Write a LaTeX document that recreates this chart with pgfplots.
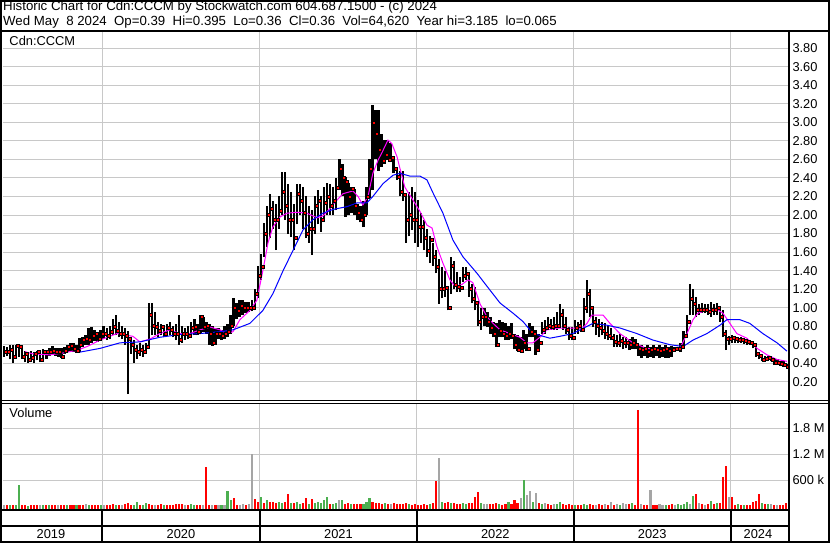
\documentclass[border=0pt]{standalone}
\usepackage{pgfplots}
\pgfplotsset{compat=1.18}
\usepackage{pgfplotstable}
\usepackage{fontspec}
\setmainfont{Liberation Sans}
\definecolor{gridc}{RGB}{200,200,200}
\definecolor{volred}{RGB}{255,0,0}
\definecolor{volgreen}{RGB}{76,175,80}
\definecolor{volgray}{RGB}{165,165,165}
\definecolor{mapink}{RGB}{255,0,255}
\definecolor{mablue}{RGB}{0,0,255}

% weekly bars: x = week index (+0.5), h = high, l = low, c = close
\pgfplotstableread{
x h l c
0.5 0.59 0.47 0.52
1.5 0.58 0.48 0.52
2.5 0.60 0.44 0.55
3.5 0.60 0.40 0.47
4.5 0.60 0.46 0.59
5.5 0.60 0.47 0.58
6.5 0.58 0.45 0.47
7.5 0.53 0.41 0.50
8.5 0.52 0.40 0.44
9.5 0.53 0.41 0.46
10.5 0.52 0.40 0.50
11.5 0.53 0.43 0.52
12.5 0.53 0.41 0.44
13.5 0.55 0.45 0.52
14.5 0.53 0.45 0.52
15.5 0.56 0.48 0.52
16.5 0.59 0.50 0.53
17.5 0.56 0.48 0.52
18.5 0.56 0.47 0.52
19.5 0.56 0.46 0.47
20.5 0.58 0.50 0.53
21.5 0.60 0.52 0.58
22.5 0.62 0.53 0.59
23.5 0.62 0.52 0.56
24.5 0.60 0.51 0.53
25.5 0.67 0.52 0.60
26.5 0.68 0.57 0.65
27.5 0.70 0.60 0.66
28.5 0.78 0.60 0.65
29.5 0.79 0.62 0.70
30.5 0.76 0.64 0.72
31.5 0.74 0.63 0.66
32.5 0.76 0.64 0.72
33.5 0.80 0.66 0.72
34.5 0.78 0.65 0.70
35.5 0.80 0.66 0.74
36.5 0.88 0.70 0.79
37.5 0.92 0.70 0.75
38.5 0.85 0.68 0.72
39.5 0.80 0.66 0.72
40.5 0.78 0.60 0.70
41.5 0.75 0.065 0.66
42.5 0.68 0.50 0.60
43.5 0.65 0.40 0.55
44.5 0.60 0.45 0.52
45.5 0.62 0.48 0.55
46.5 0.60 0.47 0.52
47.5 0.62 0.50 0.58
48.5 1.05 0.55 0.92
49.5 1.05 0.70 0.80
50.5 0.95 0.70 0.79
51.5 0.85 0.68 0.75
52.5 0.82 0.70 0.79
53.5 0.80 0.68 0.72
54.5 0.82 0.70 0.78
55.5 0.85 0.70 0.76
56.5 0.80 0.68 0.72
57.5 0.82 0.65 0.72
58.5 0.92 0.60 0.65
59.5 0.80 0.62 0.72
60.5 0.78 0.65 0.72
61.5 0.80 0.66 0.70
62.5 0.85 0.68 0.78
63.5 0.88 0.70 0.79
64.5 0.82 0.70 0.74
65.5 0.92 0.72 0.90
66.5 0.90 0.74 0.79
67.5 0.85 0.72 0.80
68.5 0.82 0.60 0.72
69.5 0.80 0.59 0.62
70.5 0.78 0.60 0.72
71.5 0.78 0.66 0.72
72.5 0.76 0.65 0.70
73.5 0.80 0.66 0.72
74.5 0.82 0.68 0.74
75.5 0.92 0.72 0.80
76.5 1.10 0.80 1.00
77.5 1.05 0.88 0.97
78.5 1.08 0.90 1.02
79.5 1.08 0.92 1.00
80.5 1.06 0.94 1.00
81.5 1.06 0.95 1.00
82.5 1.08 0.96 1.00
83.5 1.20 0.97 1.15
84.5 1.45 1.10 1.35
85.5 1.58 1.30 1.44
86.5 1.91 1.55 1.80
87.5 2.10 1.65 2.00
88.5 2.23 1.75 2.07
89.5 2.15 1.85 1.95
90.5 2.12 1.62 1.95
91.5 2.20 1.85 2.05
92.5 2.46 2.00 2.25
93.5 2.46 1.95 2.10
94.5 2.33 1.80 1.95
95.5 2.25 1.76 1.95
96.5 2.12 1.62 1.75
97.5 2.33 1.90 2.23
98.5 2.33 2.00 2.15
99.5 2.30 1.85 2.03
100.5 2.20 1.75 1.80
101.5 2.10 1.70 1.85
102.5 2.05 1.57 1.85
103.5 2.20 1.80 2.10
104.5 2.27 1.90 2.15
105.5 2.20 1.82 1.95
106.5 2.30 1.95 2.13
107.5 2.35 2.00 2.20
108.5 2.33 2.00 2.10
109.5 2.30 2.00 2.15
110.5 2.40 2.05 2.30
111.5 2.60 2.27 2.50
112.5 2.55 2.20 2.40
113.5 2.41 1.98 2.36
114.5 2.35 2.00 2.20
115.5 2.30 2.02 2.28
116.5 2.28 2.00 2.10
117.5 2.12 1.95 2.03
118.5 2.10 1.92 1.95
119.5 2.15 1.87 2.00
120.5 2.30 2.00 2.20
121.5 2.60 2.18 2.50
122.5 3.19 2.27 3.00
123.5 3.13 2.60 2.88
124.5 3.13 2.48 2.70
125.5 2.88 2.52 2.59
126.5 2.81 2.55 2.65
127.5 2.81 2.59 2.60
128.5 2.78 2.59 2.62
129.5 2.59 2.45 2.50
130.5 2.50 2.38 2.41
131.5 2.48 2.20 2.25
132.5 2.48 2.15 2.22
133.5 2.20 1.70 1.95
134.5 2.25 1.77 2.00
135.5 2.30 1.84 1.95
136.5 2.25 1.70 1.95
137.5 2.16 1.66 1.87
138.5 2.02 1.70 1.87
139.5 1.95 1.62 1.75
140.5 1.85 1.55 1.62
141.5 1.77 1.48 1.73
142.5 1.70 1.45 1.55
143.5 1.62 1.37 1.44
144.5 1.52 1.04 1.20
145.5 1.44 1.10 1.20
146.5 1.40 1.12 1.22
147.5 1.20 0.97 1.00
148.5 1.55 1.15 1.45
149.5 1.50 1.20 1.25
150.5 1.38 1.17 1.23
151.5 1.33 1.17 1.22
152.5 1.44 1.28 1.35
153.5 1.44 1.30 1.37
154.5 1.37 1.12 1.20
155.5 1.25 1.05 1.10
156.5 1.22 0.97 1.05
157.5 1.04 0.80 0.85
158.5 1.00 0.76 0.90
159.5 1.00 0.80 0.90
160.5 0.95 0.79 0.85
161.5 0.90 0.72 0.78
162.5 0.85 0.68 0.72
163.5 0.83 0.58 0.60
164.5 0.87 0.68 0.75
165.5 0.85 0.68 0.72
166.5 0.83 0.65 0.70
167.5 0.80 0.65 0.72
168.5 0.83 0.66 0.70
169.5 0.72 0.55 0.60
170.5 0.70 0.53 0.55
171.5 0.68 0.53 0.53
172.5 0.76 0.55 0.62
173.5 0.72 0.53 0.56
174.5 0.83 0.68 0.74
175.5 0.80 0.68 0.72
176.5 0.76 0.49 0.55
177.5 0.72 0.55 0.62
178.5 0.85 0.72 0.76
179.5 0.87 0.72 0.78
180.5 0.90 0.76 0.80
181.5 0.88 0.76 0.79
182.5 0.90 0.76 0.80
183.5 0.95 0.76 0.80
184.5 1.04 0.78 0.92
185.5 0.98 0.76 0.80
186.5 0.90 0.72 0.76
187.5 0.79 0.65 0.70
188.5 0.79 0.65 0.68
189.5 0.87 0.72 0.78
190.5 0.85 0.72 0.80
191.5 0.87 0.74 0.76
192.5 1.10 0.78 1.00
193.5 1.30 0.94 1.15
194.5 1.20 0.90 1.00
195.5 1.00 0.79 0.85
196.5 0.90 0.70 0.80
197.5 0.88 0.68 0.78
198.5 0.85 0.70 0.75
199.5 0.83 0.66 0.72
200.5 0.80 0.65 0.70
201.5 0.78 0.65 0.68
202.5 0.72 0.58 0.63
203.5 0.70 0.58 0.62
204.5 0.72 0.58 0.64
205.5 0.68 0.55 0.62
206.5 0.68 0.56 0.62
207.5 0.66 0.54 0.60
208.5 0.68 0.55 0.62
209.5 0.66 0.55 0.60
210.5 0.60 0.48 0.56
211.5 0.60 0.46 0.55
212.5 0.58 0.48 0.56
213.5 0.60 0.46 0.52
214.5 0.58 0.47 0.55
215.5 0.60 0.46 0.56
216.5 0.58 0.48 0.55
217.5 0.60 0.46 0.53
218.5 0.58 0.47 0.55
219.5 0.60 0.46 0.56
220.5 0.58 0.46 0.53
221.5 0.59 0.47 0.55
222.5 0.58 0.54 0.56
223.5 0.58 0.54 0.56
224.5 0.62 0.52 0.58
225.5 0.75 0.55 0.70
226.5 0.92 0.68 0.85
227.5 1.25 0.92 1.10
228.5 1.20 0.92 1.04
229.5 1.12 0.90 0.98
230.5 1.04 0.92 0.98
231.5 1.05 0.94 0.98
232.5 1.04 0.94 0.98
233.5 1.04 0.92 0.96
234.5 1.06 0.90 0.98
235.5 1.04 0.92 0.98
236.5 1.05 0.92 1.00
237.5 1.00 0.85 0.90
238.5 0.97 0.68 0.72
239.5 0.76 0.54 0.66
240.5 0.69 0.60 0.66
241.5 0.70 0.62 0.67
242.5 0.69 0.62 0.66
243.5 0.68 0.62 0.65
244.5 0.68 0.62 0.65
245.5 0.67 0.61 0.64
246.5 0.66 0.60 0.63
247.5 0.64 0.60 0.62
248.5 0.64 0.56 0.60
249.5 0.60 0.47 0.50
250.5 0.52 0.44 0.48
251.5 0.47 0.42 0.44
252.5 0.48 0.42 0.45
253.5 0.48 0.42 0.46
254.5 0.47 0.42 0.44
255.5 0.44 0.38 0.40
256.5 0.44 0.38 0.41
257.5 0.42 0.37 0.39
258.5 0.42 0.36 0.38
259.5 0.395 0.36 0.36
}\price

% weekly volume in thousands; c: 1 = down (red), 2 = up (green), 3 = unchanged (gray)
\pgfplotstableread{
x v c
0.5 15 3
1.5 10 1
2.5 30 2
3.5 12 1
4.5 10 2
5.5 485 2
6.5 15 1
7.5 10 1
8.5 8 2
9.5 12 1
10.5 10 1
11.5 15 1
12.5 25 3
13.5 12 2
14.5 10 1
15.5 20 2
16.5 15 1
17.5 25 1
18.5 10 3
19.5 12 1
20.5 10 1
21.5 15 2
22.5 12 1
23.5 10 1
24.5 15 2
25.5 12 1
26.5 20 1
27.5 50 3
28.5 25 2
29.5 10 1
30.5 15 1
31.5 20 1
32.5 12 2
33.5 15 3
34.5 25 1
35.5 20 1
36.5 40 1
37.5 30 2
38.5 20 1
39.5 15 3
40.5 50 1
41.5 60 1
42.5 20 1
43.5 15 2
44.5 80 2
45.5 20 1
46.5 25 2
47.5 60 2
48.5 40 1
49.5 30 1
50.5 25 3
51.5 20 1
52.5 35 1
53.5 20 2
54.5 15 1
55.5 20 1
56.5 15 1
57.5 50 1
58.5 50 1
59.5 40 1
60.5 30 3
61.5 20 1
62.5 35 2
63.5 25 2
64.5 15 1
65.5 20 1
66.5 30 3
67.5 903 1
68.5 30 1
69.5 25 3
70.5 15 1
71.5 20 3
72.5 25 2
73.5 30 3
74.5 346 2
75.5 140 2
76.5 180 1
77.5 30 1
78.5 25 3
79.5 40 3
80.5 20 1
81.5 40 3
82.5 1200 3
83.5 160 1
84.5 90 1
85.5 214 2
86.5 60 1
87.5 137 2
88.5 80 1
89.5 90 1
90.5 60 1
91.5 100 2
92.5 70 2
93.5 80 1
94.5 276 1
95.5 60 2
96.5 70 1
97.5 90 2
98.5 50 2
99.5 60 1
100.5 190 1
101.5 50 2
102.5 160 1
103.5 70 2
104.5 90 2
105.5 75 2
106.5 140 2
107.5 214 2
108.5 40 1
109.5 50 2
110.5 60 2
111.5 137 3
112.5 137 2
113.5 50 1
114.5 60 1
115.5 40 2
116.5 50 1
117.5 40 1
118.5 50 1
119.5 40 2
120.5 100 2
121.5 183 2
122.5 90 1
123.5 60 1
124.5 67 1
125.5 50 1
126.5 60 2
127.5 50 1
128.5 40 3
129.5 60 1
130.5 50 1
131.5 40 1
132.5 50 1
133.5 60 1
134.5 40 2
135.5 30 1
136.5 50 1
137.5 30 1
138.5 30 1
139.5 40 1
140.5 30 1
141.5 40 2
142.5 60 1
143.5 578 1
144.5 1110 3
145.5 80 2
146.5 60 1
147.5 90 1
148.5 70 2
149.5 60 1
150.5 40 1
151.5 50 1
152.5 60 2
153.5 40 2
154.5 70 1
155.5 60 1
156.5 214 1
157.5 330 1
158.5 60 2
159.5 50 3
160.5 40 3
161.5 50 1
162.5 40 1
163.5 60 1
164.5 40 2
165.5 30 1
166.5 40 1
167.5 80 2
168.5 50 1
169.5 137 1
170.5 60 1
171.5 195 3
172.5 600 2
173.5 253 3
174.5 346 3
175.5 80 2
176.5 307 3
177.5 60 1
178.5 40 2
179.5 70 3
180.5 40 1
181.5 30 1
182.5 40 3
183.5 50 2
184.5 100 2
185.5 40 1
186.5 30 1
187.5 40 1
188.5 30 1
189.5 20 2
190.5 30 1
191.5 20 1
192.5 40 2
193.5 30 2
194.5 40 1
195.5 30 1
196.5 30 3
197.5 40 1
198.5 30 1
199.5 40 3
200.5 30 1
201.5 80 3
202.5 30 1
203.5 50 3
204.5 30 2
205.5 70 3
206.5 40 3
207.5 40 1
208.5 60 2
209.5 30 1
210.5 2220 1
211.5 40 3
212.5 30 1
213.5 30 1
214.5 370 3
215.5 30 1
216.5 30 1
217.5 40 3
218.5 30 3
219.5 30 2
220.5 30 1
221.5 40 1
222.5 30 3
223.5 40 2
224.5 30 2
225.5 40 2
226.5 90 2
227.5 50 3
228.5 230 2
229.5 276 1
230.5 60 3
231.5 40 1
232.5 30 3
233.5 40 1
234.5 114 2
235.5 40 1
236.5 60 2
237.5 60 1
238.5 680 1
239.5 925 1
240.5 206 3
241.5 200 1
242.5 30 1
243.5 40 2
244.5 20 1
245.5 30 2
246.5 20 1
247.5 30 1
248.5 80 1
249.5 120 1
250.5 276 1
251.5 60 2
252.5 40 1
253.5 50 2
254.5 40 3
255.5 30 1
256.5 20 3
257.5 30 1
258.5 20 1
259.5 65 1
}\vol

\pgfplotsset{
  panel/.style={
    scale only axis, anchor=south west,
    xmin=0, xmax=260.2,
    axis line style={draw=none},
    major tick length=0pt,
    xtick={33.04,85.24,137.2,189.08,241.05}, xticklabels={},
    xmajorgrids, ymajorgrids,
    grid style={gridc, line width=1bp},
    yticklabel pos=right,
    yticklabel style={anchor=west, inner sep=0pt, xshift=3.8bp,
      font=\fontsize{12.9}{14}\selectfont},
    clip=true,
  },
  barstyle/.style 2 args={draw=none, mark=none, forget plot,
    error bars/y dir=plus, error bars/y explicit, error bars/error mark=none,
    error bars/error bar style={line width=#1, #2}},
}

\begin{document}
\begin{tikzpicture}
\path[use as bounding box] (0,0) rectangle (830bp,-543bp);
\fill[white] (0,0) rectangle (830bp,-543bp);

% ---------------- price panel ----------------
\begin{axis}[panel,
  at={(2.5bp,-400.7bp)}, width=786bp, height=369.7bp,
  ymin=-0.005, ymax=3.987,
  ytick={0.2,0.4,0.6,0.8,1.0,1.2,1.4,1.6,1.8,2.0,2.2,2.4,2.6,2.8,3.0,3.2,3.4,3.6,3.8},
  /pgf/number format/fixed, /pgf/number format/fixed zerofill,
  /pgf/number format/precision=2, /pgf/number format/assume math mode=true,
]
\addplot[barstyle={2.4bp}{black}]
  table[x=x, y=l, y error plus expr=\thisrow{h}-\thisrow{l}] {\price};
\addplot[only marks, mark=square*, mark size=1.5bp,
  mark options={draw=none, fill=red, xshift=1.6bp}]
  table[x=x, y=c] {\price};
% short moving average (magenta)
\addplot[mapink, line width=1bp, mark=none] coordinates {
(7.45,0.525) (10.1,0.50) (15.7,0.49) (20.0,0.51) (24.7,0.54) (28.0,0.58)
(32.3,0.65) (37.9,0.72) (43.2,0.69) (45.5,0.63) (48.8,0.66) (52.1,0.72)
(55.4,0.76) (58.8,0.72) (62.1,0.72) (65.4,0.76) (68.7,0.79) (72.0,0.76)
(74.3,0.72) (76.3,0.74) (78.6,0.87) (81.9,0.97) (84.2,1.08) (86.2,1.40)
(87.9,1.70) (89.5,1.87) (91.9,1.98) (94.2,2.02) (97.5,2.03) (100.8,2.02)
(104.1,1.97) (106.1,1.99) (108.4,2.07) (110.7,2.16) (112.7,2.23) (116.0,2.26)
(117.7,2.20) (119.3,2.11) (121.0,2.20) (122.6,2.45) (124.3,2.59) (126.0,2.70)
(127.6,2.81) (128.9,2.77) (130.6,2.63) (131.6,2.50) (133.2,2.30) (135.9,2.16)
(138.2,2.04) (140.5,1.89) (142.2,1.86) (143.8,1.66) (145.8,1.48) (148.1,1.30)
(149.8,1.23) (152.1,1.25) (154.1,1.30) (155.7,1.27) (158.1,1.04) (160.4,0.90)
(162.4,0.83) (164.7,0.76) (168.0,0.72) (171.3,0.68) (173.6,0.62) (175.6,0.62)
(177.9,0.68) (180.2,0.76) (184.5,0.78) (188.8,0.78) (191.8,0.77) (193.5,0.83)
(195.1,0.92) (198.8,0.92) (201.1,0.83) (204.4,0.72) (208.7,0.62) (213.3,0.56)
(217.6,0.55) (221.9,0.53) (224.3,0.56) (226.6,0.72) (228.6,0.87) (230.2,0.94)
(233.2,0.97) (236.5,0.98) (238.5,0.94) (240.8,0.83) (243.1,0.72) (246.4,0.67)
(249.8,0.56) (253.1,0.49) (256.4,0.44) (259.7,0.42)
};
% long moving average (blue)
\addplot[mablue, line width=1bp, mark=none] coordinates {
(25.7,0.52) (32.3,0.56) (38.9,0.62) (45.5,0.63) (52.1,0.68) (58.8,0.71)
(65.4,0.72) (72.0,0.74) (76.3,0.76) (81.9,0.83) (86.2,0.97) (89.5,1.15)
(92.9,1.40) (96.2,1.62) (99.5,1.84) (102.8,1.95) (106.1,2.02) (109.4,2.06)
(114.0,2.09) (117.3,2.13) (120.6,2.13) (122.6,2.20) (126.0,2.34) (129.3,2.43)
(131.6,2.45) (134.9,2.42) (138.2,2.42) (140.5,2.38) (142.5,2.24) (145.8,2.02)
(149.1,1.73) (152.4,1.55) (157.1,1.37) (160.4,1.23) (164.7,1.05) (169.0,0.94)
(172.3,0.85) (175.6,0.72) (177.9,0.70) (181.2,0.67) (184.5,0.69) (188.8,0.72)
(191.2,0.76) (195.5,0.83) (200.1,0.81) (204.4,0.78) (210.0,0.72) (215.3,0.65)
(220.9,0.60) (225.3,0.58) (228.6,0.65) (233.2,0.72) (237.5,0.81) (239.8,0.87)
(244.1,0.87) (247.4,0.83) (251.7,0.72) (256.4,0.62) (259.7,0.53)
};
\end{axis}

% ---------------- volume panel ----------------
\begin{axis}[panel,
  at={(2.5bp,-509.5bp)}, width=786bp, height=106.2bp,
  ymin=-83.5, ymax=2380,
  ytick={600,1200,1800}, yticklabels={600 k,1.2 M,1.8 M},
]
\addplot[restrict expr to domain={\thisrow{c}}{3:3}, barstyle={2.1bp}{volgray}]
  table[x=x, y expr=-83.5, y error plus expr=\thisrow{v}+83.5] {\vol};
\addplot[restrict expr to domain={\thisrow{c}}{2:2}, barstyle={2.1bp}{volgreen}]
  table[x=x, y expr=-83.5, y error plus expr=\thisrow{v}+83.5] {\vol};
\addplot[restrict expr to domain={\thisrow{c}}{1:1}, barstyle={2.1bp}{volred}]
  table[x=x, y expr=-83.5, y error plus expr=\thisrow{v}+83.5] {\vol};
\end{axis}

% ---------------- frame, header and labels ----------------
\begin{scope}[x=1bp, y=-1bp]
\draw[line width=2bp] (1,1) rectangle (828.5,541.5);
\draw[line width=2bp] (0,30.8) -- (830,30.8);
\draw[line width=2.3bp] (789.3,30.8) -- (789.3,541.5);
\draw[line width=1.2bp] (0,400.7) -- (830,400.7);
\draw[line width=1.2bp] (0,403.3) -- (830,403.3);
\draw[line width=1.8bp] (0,510.2) -- (789.3,510.2);
\draw[line width=1.8bp] (0,525.8) -- (789.3,525.8);
\foreach \sx in {102.3,260,417,573.7,730.7}
  \draw[line width=1.8bp] (\sx,510.2) -- (\sx,541.5);

\begin{scope}[every node/.style={inner sep=0pt, font=\fontsize{13.3}{15}\selectfont}]
\node[anchor=base west] at (3,10.9) {Historic Chart for Cdn:CCCM by Stockwatch.com 604.687.1500 - (c) 2024};
\node[anchor=base west] at (3,25.1) {Wed May\ \ 8 2024\ \ Op=0.39\ \ Hi=0.395\ \ Lo=0.36\ \ Cl=0.36\ \ Vol=64,620\ \ Year hi=3.185\ \ lo=0.065};
\end{scope}
\begin{scope}[every node/.style={inner sep=0pt, font=\fontsize{12.9}{14}\selectfont}]
\node[anchor=base west] at (9.3,45.7) {Cdn:CCCM};
\node[anchor=base west] at (9.3,417.5) {Volume};
\node[anchor=base] at (51,538.8) {2019};
\node[anchor=base] at (181,538.8) {2020};
\node[anchor=base] at (338.5,538.8) {2021};
\node[anchor=base] at (495.3,538.8) {2022};
\node[anchor=base] at (652.2,538.8) {2023};
\node[anchor=base] at (758,538.8) {2024};
\end{scope}
\end{scope}
\end{tikzpicture}
\end{document}
